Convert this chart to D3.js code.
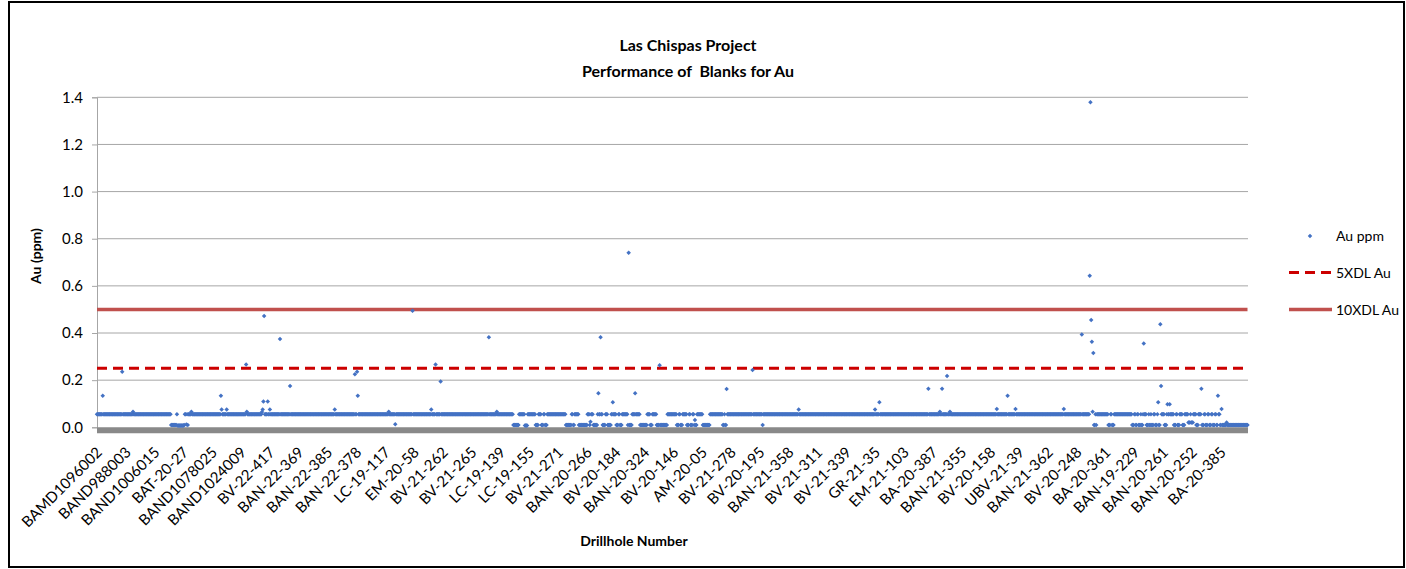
<!DOCTYPE html>
<html><head><meta charset="utf-8">
<script src="https://cdn.jsdelivr.net/npm/d3@7"></script>
<style>
body{margin:0;background:#fff}
svg{display:block}
text{font-family:Lato,"Liberation Sans",sans-serif;fill:#000}
</style>
</head><body>
<svg id="chart" width="1406" height="569"></svg>
<script>
// ---------- data ----------
const titleLines = ["Las Chispas Project", "Performance of  Blanks for Au"];
const xTitle = "Drillhole Number";
const yTitle = "Au (ppm)";
const seriesNames = ["Au ppm", "5XDL Au", "10XDL Au"];
const tickLabels = ["BAMD1096002","BAND988003","BAND1006015","BAT-20-27","BAND1078025","BAND1024009",
 "BV-22-417","BAN-22-369","BAN-22-385","BAN-22-378","LC-19-117","EM-20-58","BV-21-262","BV-21-265",
 "LC-19-139","LC-19-155","BV-21-271","BAN-20-266","BV-20-184","BAN-20-324","BV-20-146","AM-20-05",
 "BV-21-278","BV-20-195","BAN-21-358","BV-21-311","BV-21-339","GR-21-35","EM-21-103","BA-20-387",
 "BAN-21-355","BV-20-158","UBV-21-39","BAN-21-362","BV-20-248","BA-20-361","BAN-19-229","BAN-20-261",
 "BAN-20-252","BA-20-385"];
const labelEvery = 40;            // one category label every 40 samples
const yTicks = [0, 0.2, 0.4, 0.6, 0.8, 1.0, 1.2, 1.4];
const limit5XDL = 0.25;
const limit10XDL = 0.5;
// Au ppm of blanks, in sample order, as runs of [value, number of consecutive samples]
const B = 0.055, L = 0.01;
const auRuns = [
 [B,8],[0.134,1],[B,26],[0.236,1],[B,14],[0.066,1],[B,52],
 [L,8],[B,1],[0.008,9],[L,1],[B,2],[0.012,1],[B,1],[L,1],
 [B,4],[0.066,1],[B,40],[0.134,1],[0.076,1],[B,6],[0.076,1],[B,26],[0.266,1],[0.066,1],[B,20],
 [0.065,1],[0.076,1],[0.109,1],[0.472,1],[B,4],[0.109,1],[B,2],[0.076,1],[B,13],[0.375,1],[B,13],
 [0.175,1],[B,61],[0.076,1],[B,27],[0.225,1],[B,2],[0.236,1],[0.134,1],[B,42],[0.066,1],[B,8],
 [0.013,1],[B,23],[0.494,1],[B,25],[0.076,1],[B,5],[0.266,1],[B,6],[0.194,1],[B,66],[0.382,1],
 [B,10],[0.066,1],[B,22],
 [L,8],[B,8],[0.008,4],[B,11],[L,4],[B,4],[L,3],[B,2],[L,3],[B,26],[L,8],[B,2],[L,2],[B,6],
 [L,12],[B,3],[L,1],[0.024,1],[B,3],[L,6],[B,1],[0.144,1],[B,2],[0.382,1],[B,2],[L,4],[B,3],
 [L,5],[B,2],[0.106,1],[B,4],[L,3],[B,2],[L,3],[B,8],[L,1],[0.741,1],[L,4],[B,4],[0.144,1],
 [B,6],[L,10],[B,4],[L,3],[B,6],[L,4],[0.263,1],[L,10],[B,13],[L,3],[B,2],[L,3],[B,6],[L,3],
 [B,2],[L,3],[B,2],[L,1],[0.031,1],[L,2],[B,8],[L,10],[B,18],[L,2],[B,1],[L,2],[0.162,1],
 [B,35],[0.243,1],[B,13],[L,1],[B,49],[0.076,1],[B,105],[0.076,1],[B,5],[0.106,1],
 [B,67],[0.164,1],[B,15],[0.066,1],[B,2],[0.164,1],[B,6],[0.218,1],[B,3],[0.066,1],[B,64],
 [0.078,1],[B,14],[0.134,1],[B,10],[0.078,1],[B,66],[0.078,1],[B,24],[0.394,1],[B,10],
 [0.643,1],[1.379,1],[0.455,1],[0.363,1],[0.066,1],[0.315,1],
 [L,2],[B,1],[L,1],[B,16],[L,3],[B,2],[L,3],[B,25],[L,3],[B,2],[L,2],[B,2],[L,3],[B,1],[L,2],
 [B,1],[0.356,1],[B,3],[L,3],[B,1],[L,2],[B,1],[L,3],[B,2],[L,3],[B,1],[0.106,1],[L,2],
 [0.437,1],[0.175,1],[B,4],[L,3],[B,1],[0.098,1],[B,2],[0.098,1],[B,5],[L,3],[B,2],[L,3],
 [B,4],[L,3],[B,5],[0.02,3],[B,1],[0.02,3],[B,4],[L,3],[B,4],[0.164,1],[L,3],[B,2],[L,3],
 [B,2],[L,3],[B,2],[L,3],[B,2],[L,2],[0.134,1],[B,2],[L,2],[0.078,1],[L,6],[0.02,1],[L,29]
];

// ---------- build ----------
const auValues = auRuns.flatMap(([v, n]) => Array(n).fill(v));
const N = auValues.length;
const points = auValues.map((v, i) => ({i, v}));

const svg = d3.select("#chart");
const pLeft = 97, pRight = 1247.5, pTop = 97.3, pBottom = 427.3;

// outer frame
svg.append("rect").attr("x", 9).attr("y", 2).attr("width", 1395).attr("height", 565)
  .attr("fill", "none").attr("stroke", "#000").attr("stroke-width", 2);

const x = d3.scaleLinear().domain([0, N - 1]).range([pLeft, pRight]);
const y = d3.scaleLinear().domain([0, 1.4]).range([pBottom, pTop]);

// gridlines
svg.append("g").selectAll("line").data(yTicks.filter(t => t > 0)).join("line")
  .attr("x1", pLeft).attr("x2", pRight + 0.5)
  .attr("y1", d => y(d)).attr("y2", d => y(d))
  .attr("stroke", "#a6a6a6").attr("stroke-width", 1);

// y axis
const yAxis = svg.append("g").attr("transform", `translate(${pLeft},0)`)
  .call(d3.axisLeft(y).tickValues(yTicks).tickFormat(d3.format(".1f")).tickSize(5).tickPadding(9));
yAxis.select(".domain").attr("stroke", "#a6a6a6");
yAxis.selectAll(".tick line").attr("stroke", "#a6a6a6");
yAxis.selectAll("text").attr("font-size", 15).attr("fill", "#000").style("font-family", "Lato");

// x axis (thick grey line) and category labels
svg.append("line").attr("x1", x(0)).attr("x2", pRight + 0.5)
  .attr("y1", y(0) + 3).attr("y2", y(0) + 3)
  .attr("stroke", "#898989").attr("stroke-width", 6);

const labelData = tickLabels.map((t, k) => ({t, i: k * labelEvery}));
svg.append("g").selectAll("text").data(labelData).join("text")
  .attr("transform", d => `translate(${x(d.i) + 6},${y(0) + 26}) rotate(-45)`)
  .attr("text-anchor", "end").attr("font-size", 15)
  .text(d => d.t);

// limit lines
svg.append("line").attr("x1", x(0)).attr("x2", pRight)
  .attr("y1", y(limit5XDL)).attr("y2", y(limit5XDL))
  .attr("stroke", "#CC0000").attr("stroke-width", 3).attr("stroke-dasharray", "10,6");
svg.append("line").attr("x1", x(0)).attr("x2", pRight)
  .attr("y1", y(limit10XDL)).attr("y2", y(limit10XDL))
  .attr("stroke", "#C0504D").attr("stroke-width", 3.5);

// points (on top of the limit lines)
const sym = d3.symbol().type(d3.symbolDiamond2).size(13);
svg.append("g").selectAll("path").data(points).join("path")
  .attr("transform", d => `translate(${x(d.i)},${y(d.v)})`)
  .attr("d", sym).attr("fill", "#4472C4");

// titles
const tg = svg.append("text").attr("x", 688).attr("text-anchor", "middle")
  .attr("font-size", 16).attr("font-weight", "bold").style("white-space", "pre");
tg.selectAll("tspan").data(titleLines).join("tspan")
  .attr("x", 688).attr("y", (d, k) => 51 + k * 25.5).text(d => d);

svg.append("text").attr("x", 634).attr("y", 546).attr("text-anchor", "middle")
  .attr("font-size", 14).attr("font-weight", "bold").text(xTitle);
svg.append("text").attr("transform", "translate(41,256) rotate(-90)")
  .attr("text-anchor", "middle").attr("font-size", 14).attr("font-weight", "bold").text(yTitle);

// legend
const lg = svg.append("g");
const ly = [236, 272.5, 309.5];
lg.append("path").attr("transform", `translate(1310,${ly[0]})`).attr("d", sym).attr("fill", "#4472C4");
lg.append("line").attr("x1", 1289).attr("x2", 1331).attr("y1", ly[1]).attr("y2", ly[1])
  .attr("stroke", "#CC0000").attr("stroke-width", 3).attr("stroke-dasharray", "10,6");
lg.append("line").attr("x1", 1289).attr("x2", 1332).attr("y1", ly[2]).attr("y2", ly[2])
  .attr("stroke", "#C0504D").attr("stroke-width", 3.5);
lg.selectAll("text").data(seriesNames).join("text")
  .attr("x", 1336).attr("y", (d, k) => ly[k] + 5).attr("font-size", 14).text(d => d);
</script>
</body></html>
